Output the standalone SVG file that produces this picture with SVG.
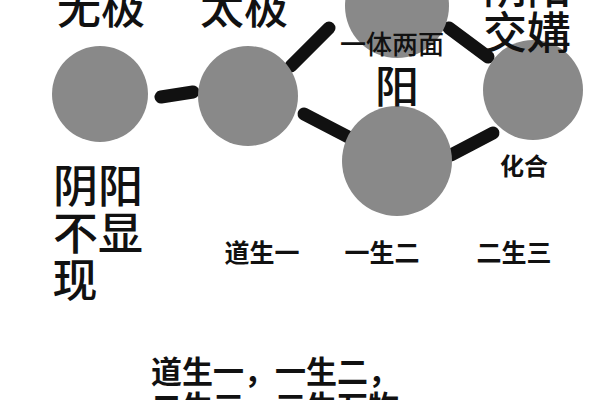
<svg xmlns="http://www.w3.org/2000/svg" width="600" height="400" viewBox="0 0 600 400">
<style>
.n{fill:#898989}
.t{font-family:"Noto Sans CJK SC","Noto Sans",sans-serif;fill:#111;text-anchor:middle;font-weight:500}
.b{font-weight:bold}
.c{stroke:#111;stroke-width:13;stroke-linecap:round;fill:none}
</style>
<rect width="600" height="400" fill="#fff"/>
<g id="connectors">
<line class="c" x1="161" y1="97" x2="193" y2="92"/>
<line class="c" x1="291" y1="66" x2="329" y2="28"/>
<line class="c" x1="304" y1="114" x2="356" y2="141"/>
<line class="c" x1="449" y1="28" x2="488" y2="57"/>
<line class="c" x1="451" y1="155" x2="493" y2="133"/>
</g>
<g id="wuji"><circle class="n" cx="100" cy="94" r="48"/><text class="t" x="101" y="24" font-size="44">无极</text></g>
<g id="taiji"><circle class="n" cx="248" cy="96" r="50"/><text class="t" x="244" y="24" font-size="44">太极</text></g>
<g id="top"><circle class="n" cx="397" cy="6" r="52"/></g>
<g id="yang"><circle class="n" cx="397" cy="161" r="55"/></g>
<g id="right"><circle class="n" cx="533" cy="90" r="50"/></g>
<g id="labels">
<text class="t" x="392" y="54" font-size="26">一体两面</text>
<text class="t" x="397" y="103" font-size="44">阳</text>
<text class="t" x="527" y="4" font-size="44">阴阳</text>
<text class="t" x="527" y="49" font-size="44">交媾</text>
<text class="t b" x="524" y="175" font-size="24">化合</text>
<text class="t" x="98" y="203" font-size="45">阴阳</text>
<text class="t" x="98" y="250" font-size="45">不显</text>
<text class="t" x="75" y="297" font-size="45">现</text>
<text class="t b" x="262" y="262" font-size="25">道生一</text>
<text class="t b" x="382" y="262" font-size="25">一生二</text>
<text class="t b" x="514" y="262" font-size="25">二生三</text>
<text class="t b" x="275" y="383" font-size="31">道生一，一生二，</text>
<text class="t b" x="275" y="418" font-size="31">二生三，三生万物</text>
</g>
</svg>
